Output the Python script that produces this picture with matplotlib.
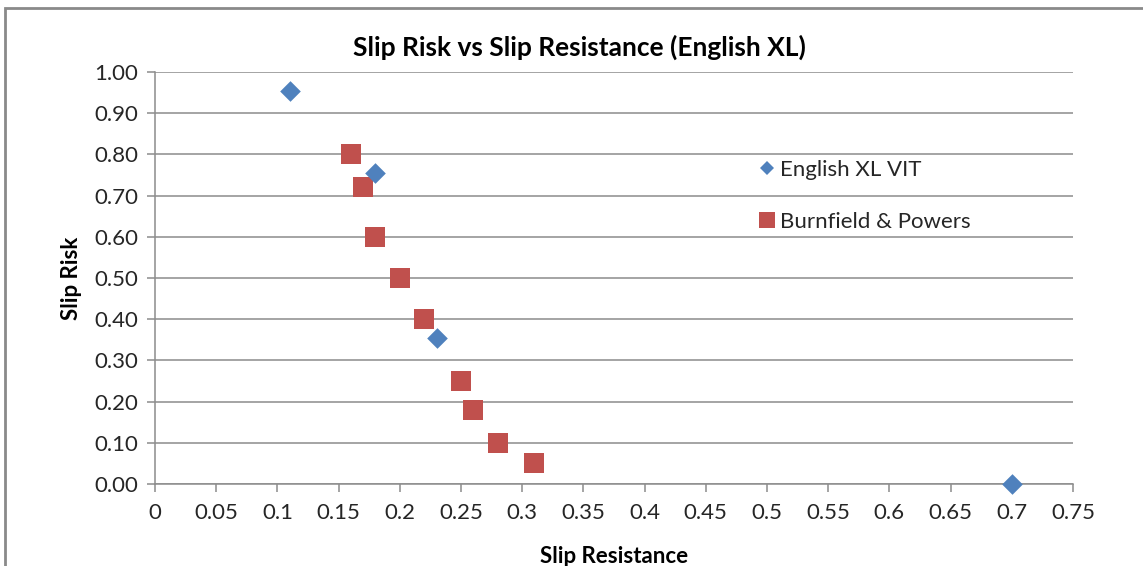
import matplotlib

matplotlib.use("Agg")
import matplotlib.pyplot as plt
from matplotlib.lines import Line2D
from matplotlib.patches import Rectangle
from matplotlib.ticker import FormatStrFormatter, MultipleLocator, FuncFormatter

plt.rcParams["font.family"] = ["Lato", "DejaVu Sans"]

# English XL VIT readings
vit_x = [0.11, 0.18, 0.23, 0.70]
vit_y = [0.955, 0.755, 0.355, 0.00]

# Burnfield & Powers
bp_x = [0.16, 0.17, 0.18, 0.20, 0.22, 0.25, 0.26, 0.28, 0.31]
bp_y = [0.80, 0.72, 0.60, 0.50, 0.40, 0.25, 0.18, 0.10, 0.05]

blue = "#4F81BD"
red = "#C0504D"
grid_col = "#8C8C8C"
text_col = "#262626"

W, H = 1143, 566
fig = plt.figure(figsize=(W / 100, H / 100), dpi=100)
ax = fig.add_axes([155 / W, 1 - 484 / H, (1073 - 155) / W, (484 - 72) / H])

ax.scatter(bp_x, bp_y, marker="s", s=14 ** 2, color=red, linewidths=0, zorder=3,
           clip_on=False)
ax.scatter(vit_x, vit_y, marker="D", s=10.5 ** 2, color=blue, linewidths=0, zorder=4,
           clip_on=False)

ax.set_xlim(0, 0.75)
ax.set_ylim(0, 1.0)
ax.xaxis.set_major_locator(MultipleLocator(0.05))
ax.yaxis.set_major_locator(MultipleLocator(0.1))
ax.yaxis.set_major_formatter(FormatStrFormatter("%.2f"))
ax.xaxis.set_major_formatter(FuncFormatter(lambda v, _: f"{round(v, 2):g}"))

ax.grid(True, axis="y", color=grid_col, linewidth=1.1)
ax.set_axisbelow(True)
for side in ("top", "right"):
    ax.spines[side].set_visible(False)
for side in ("left", "bottom"):
    ax.spines[side].set_color(grid_col)
    ax.spines[side].set_linewidth(1.1)

ax.tick_params(axis="both", direction="out", length=6, width=1.1, color=grid_col,
               labelsize=16, labelcolor=text_col)
ax.tick_params(axis="x", pad=8)
ax.tick_params(axis="y", pad=6)

ax.set_xlabel("Slip Resistance", fontsize=16, fontweight="bold", color="black", labelpad=16)
ax.set_ylabel("Slip Risk", fontsize=16, fontweight="bold", color="black", labelpad=9)

fig.text(579 / W, 1 - 47 / H, "Slip Risk vs Slip Resistance (English XL)",
         ha="center", va="center", fontsize=19, fontweight="bold", color="black")

handles = [
    Line2D([], [], marker="D", linestyle="none", color=blue, markersize=7.5, markeredgewidth=0),
    Line2D([], [], marker="s", linestyle="none", color=red, markersize=11, markeredgewidth=0),
]
fig.legend(handles, ["English XL VIT", "Burnfield & Powers"], loc="upper left",
           bbox_to_anchor=(749 / W, 1 - 151 / H), frameon=False, fontsize=16,
           labelspacing=1.44, handlelength=0.8, handletextpad=0.2, borderaxespad=0,
           labelcolor=text_col)

# chart area border
fig.patches.append(Rectangle((5 / W, -0.2), 1.2, 1.2 - 8 / H, transform=fig.transFigure,
                             fill=False, edgecolor="#8A8A8A", linewidth=2))

fig.savefig("out.png", dpi=100)
